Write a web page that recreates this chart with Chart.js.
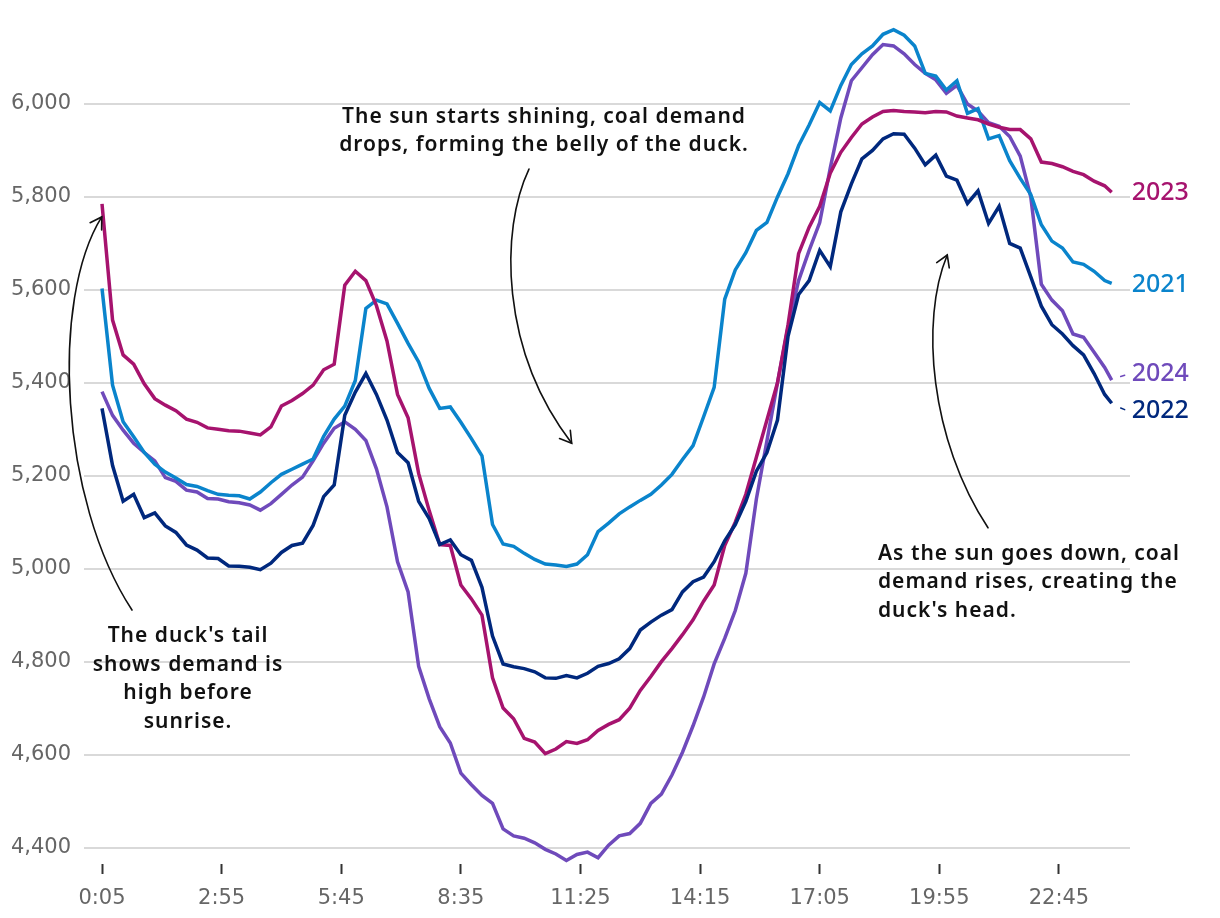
<!DOCTYPE html>
<html>
<head>
<meta charset="utf-8">
<script src="https://cdn.jsdelivr.net/npm/chart.js@4.4.1/dist/chart.umd.min.js"></script>
<style>
  html, body { margin: 0; padding: 0; background: #fff; }
</style>
</head>
<body>
<canvas id="duck" width="1220" height="918"></canvas>
<script>
// minutes after midnight, one reading every 15 min
const minutes = [5,20,35,50,65,80,95,110,125,140,155,170,185,200,215,230,245,260,275,290,
  305,320,335,350,365,380,395,410,425,440,455,470,485,500,515,530,545,560,575,590,
  605,620,635,650,665,680,695,710,725,740,755,770,785,800,815,830,845,860,875,890,
  905,920,935,950,965,980,995,1010,1025,1040,1055,1070,1085,1100,1115,1130,1145,1160,1175,1190,
  1205,1220,1235,1250,1265,1280,1295,1310,1325,1340,1355,1370,1385,1400,1415,1430,1440];

const demand2023 = [5785,5535,5460,5440,5398,5366,5352,5340,5322,5315,
  5303,5300,5297,5296,5292,5288,5305,5350,5362,5377,
  5395,5428,5440,5610,5640,5620,5566,5490,5375,5325,
  5205,5125,5052,5050,4965,4935,4900,4765,4700,4677,
  4635,4627,4602,4612,4628,4624,4632,4652,4665,4675,
  4700,4738,4768,4800,4828,4858,4890,4930,4965,5050,
  5100,5160,5240,5320,5400,5525,5678,5735,5780,5851,
  5896,5928,5957,5972,5984,5986,5984,5983,5981,5984,
  5983,5974,5970,5966,5957,5950,5945,5945,5925,5875,
  5872,5865,5855,5848,5834,5824,5810];

const demand2021 = [5603,5395,5316,5284,5250,5225,5208,5195,5181,5177,
  5168,5160,5158,5157,5150,5165,5185,5203,5214,5225,
  5236,5285,5322,5350,5405,5560,5578,5570,5528,5485,
  5445,5388,5345,5348,5315,5280,5243,5095,5053,5048,
  5033,5020,5010,5008,5005,5010,5030,5080,5098,5118,
  5133,5147,5160,5180,5203,5235,5265,5327,5390,5580,
  5643,5680,5728,5745,5800,5850,5910,5955,6003,5985,
  6040,6085,6108,6125,6150,6160,6148,6125,6066,6060,
  6030,6050,5980,5990,5925,5932,5878,5840,5805,5740,
  5705,5690,5660,5655,5640,5620,5614];

const demand2024 = [5381,5330,5298,5270,5250,5232,5196,5188,5169,5165,
  5151,5150,5144,5142,5137,5126,5140,5160,5180,5197,
  5232,5270,5302,5316,5300,5276,5215,5133,5015,4950,
  4790,4720,4660,4625,4560,4535,4512,4495,4440,4425,
  4420,4410,4396,4386,4372,4385,4390,4378,4405,4425,
  4430,4452,4495,4515,4556,4605,4662,4724,4795,4850,
  4910,4990,5150,5275,5400,5520,5620,5685,5745,5862,
  5970,6050,6078,6106,6128,6125,6108,6085,6066,6052,
  6023,6040,6000,5985,5960,5952,5930,5888,5800,5612,
  5578,5555,5505,5498,5466,5433,5406];

const demand2022 = [5345,5222,5145,5160,5110,5120,5092,5078,5051,5040,
  5023,5022,5006,5005,5003,4998,5012,5035,5050,5055,
  5093,5155,5180,5330,5380,5420,5375,5320,5250,5228,
  5145,5108,5052,5062,5030,5018,4960,4855,4795,4789,
  4785,4778,4765,4764,4770,4765,4775,4790,4796,4806,
  4828,4868,4885,4900,4912,4950,4972,4982,5015,5060,
  5095,5145,5210,5250,5320,5500,5590,5620,5685,5650,
  5768,5828,5882,5900,5925,5936,5935,5905,5869,5890,
  5845,5836,5786,5813,5743,5780,5700,5690,5628,5565,
  5525,5505,5480,5460,5420,5375,5356];

const xTickMinutes = [5,175,345,515,685,855,1025,1195,1365];
const yTickValues = [4400,4600,4800,5000,5200,5400,5600,5800,6000];

// annotation text + arrows, positioned in data units (minutes, MW)
const notes = [
  {at:[633.2,5960], align:'center', lines:['The sun starts shining, coal demand','drops, forming the belly of the duck.']},
  {at:[127.2,4842], align:'center', lines:["The duck's tail",'shows demand is','high before','sunrise.']},
  {at:[1107.8,5019], align:'left', lines:['As the sun goes down, coal','demand rises, creating the',"duck's head."]}
];
const arrows = [
  [[47.6,4911],[-54.7,5148],[-68.9,5578],[4.6,5757]],
  [[611.8,5860],[570.6,5729],[570.6,5471],[672.5,5270]],
  [[1264.2,5088],[1181.8,5277],[1167.5,5535],[1206.3,5675]]
];

const axisFont = {family:'"DejaVu Sans", sans-serif', size:21};

function toClock(m){
  const h = Math.floor(m/60), mm = m % 60;
  return h + ':' + String(mm).padStart(2,'0');
}

function series(label, vals, color, nudge){
  return {
    label: label,
    data: minutes.map((m,i) => ({x:m, y:vals[i]})),
    borderColor: color,
    backgroundColor: color,
    borderWidth: 3.5,
    pointRadius: 0,
    tension: 0,
    fill: false,
    clip: false,
    nudge: nudge
  };
}

const notesPlugin = {
  id: 'duckNotes',
  afterDatasetsDraw(chart){
    const {ctx} = chart;
    const x = chart.scales.x, y = chart.scales.y;
    ctx.save();

    ctx.fillStyle = '#111';
    ctx.font = '600 21px "Noto Sans", sans-serif';
    ctx.letterSpacing = '1px';
    ctx.textBaseline = 'alphabetic';
    notes.forEach(n => {
      ctx.textAlign = n.align;
      const px = x.getPixelForValue(n.at[0]);
      const py = y.getPixelForValue(n.at[1]);
      n.lines.forEach((t,i) => ctx.fillText(t, px, py + i*28.5));
    });
    ctx.letterSpacing = '0px';

    ctx.strokeStyle = '#111';
    ctx.lineWidth = 1.6;
    ctx.lineCap = 'round';
    arrows.forEach(a => {
      const p = a.map(([m,v]) => [x.getPixelForValue(m), y.getPixelForValue(v)]);
      ctx.beginPath();
      ctx.moveTo(p[0][0], p[0][1]);
      ctx.bezierCurveTo(p[1][0], p[1][1], p[2][0], p[2][1], p[3][0], p[3][1]);
      ctx.stroke();
      const ang = Math.atan2(p[3][1]-p[2][1], p[3][0]-p[2][0]);
      const L = 13, sp = 0.55;
      ctx.beginPath();
      ctx.moveTo(p[3][0]-L*Math.cos(ang-sp), p[3][1]-L*Math.sin(ang-sp));
      ctx.lineTo(p[3][0], p[3][1]);
      ctx.lineTo(p[3][0]-L*Math.cos(ang+sp), p[3][1]-L*Math.sin(ang+sp));
      ctx.stroke();
    });

    // year labels at the end of each line
    ctx.font = '500 25px "Noto Sans", sans-serif';
    ctx.textAlign = 'left';
    ctx.textBaseline = 'middle';
    chart.data.datasets.forEach((ds,i) => {
      const pts = chart.getDatasetMeta(i).data;
      const last = pts[pts.length-1];
      const ly = last.y + ds.nudge;
      ctx.fillStyle = ds.borderColor;
      ctx.fillText(ds.label, last.x + 20, ly);
      if (Math.abs(ds.nudge) > 4) {
        ctx.strokeStyle = ds.borderColor;
        ctx.lineWidth = 1.5;
        ctx.beginPath();
        ctx.moveTo(last.x + 9, last.y + ds.nudge*0.6);
        ctx.lineTo(last.x + 13, last.y + ds.nudge*0.8);
        ctx.stroke();
      }
    });
    ctx.restore();
  }
};

new Chart(document.getElementById('duck'), {
  type: 'line',
  data: {
    datasets: [
      series('2022', demand2022, '#00287d', 8),
      series('2023', demand2023, '#a6136e', 1),
      series('2021', demand2021, '#0a84cc', 2),
      series('2024', demand2024, '#6f4abb', -6)
    ]
  },
  options: {
    responsive: false,
    animation: false,
    layout: {padding: {top: 10, right: 90, left: 0, bottom: 0}},
    plugins: {legend: {display: false}, tooltip: {enabled: false}},
    scales: {
      x: {
        type: 'linear',
        min: -20.6,
        max: 1466,
        afterBuildTicks: s => { s.ticks = xTickMinutes.map(v => ({value: v})); },
        afterFit: s => { s.height = 54; s.paddingLeft = 0; s.paddingRight = 0; },
        border: {display: false},
        grid: {drawOnChartArea: false, drawTicks: true, tickLength: 10, tickColor: '#333', tickWidth: 2},
        ticks: {padding: 12, color: '#666', font: axisFont, maxRotation: 0, autoSkip: false,
                callback: v => toClock(v)}
      },
      y: {
        min: 4364.5,
        max: 6202.3,
        afterBuildTicks: s => { s.ticks = yTickValues.map(v => ({value: v})); },
        afterFit: s => { s.width = 84; s.paddingTop = 0; s.paddingBottom = 0; },
        border: {display: false},
        grid: {color: '#d9d9d9', lineWidth: 2, drawTicks: false},
        ticks: {padding: 13, color: '#666', font: axisFont,
                callback: v => v.toLocaleString('en-US')}
      }
    }
  },
  plugins: [notesPlugin]
});
</script>
</body>
</html>
